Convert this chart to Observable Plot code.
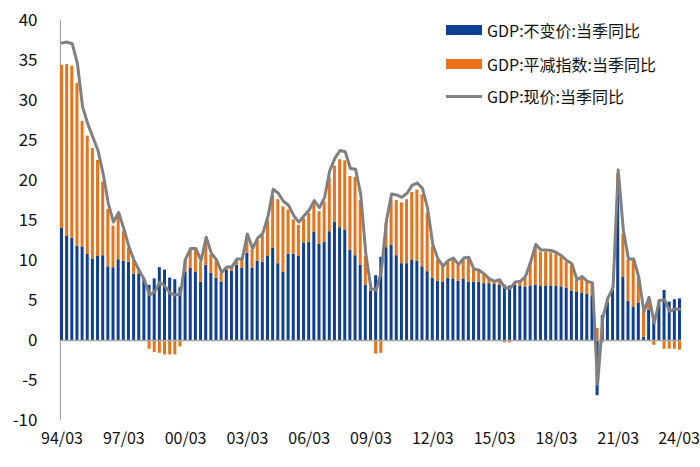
<!DOCTYPE html>
<html><head><meta charset="utf-8">
<script src="https://cdn.jsdelivr.net/npm/d3@7"></script>
<script src="https://cdn.jsdelivr.net/npm/@observablehq/plot@0.6"></script>
<style>
body{margin:0;background:#fff;}
#wrap{position:relative;width:700px;height:467px;font-family:"Noto Sans CJK SC","Noto Sans",sans-serif;}
.item{position:absolute;left:446px;height:22px;display:flex;align-items:center;white-space:nowrap;font-size:16px;color:#111;}
.sw{width:36px;height:10px;margin-right:5px;}
.ln{width:36px;height:3px;background:#808080;margin-right:5px;}
</style></head><body><div id="wrap"></div>
<script>
// Series (quarterly YoY %, 1994Q1 – 2024Q1)
const realGrowth = [
 14.0,13.0,12.8,11.75, 11.7,10.75,10.2,10.5, 10.6,9.2,9.1,10.1, 9.9,9.8,8.3,8.3,
 7.7,6.9,7.7,9.1, 8.8,7.8,7.6,6.6, 8.5,9.0,8.5,7.3, 9.4,8.4,7.8,7.3,
 8.75,8.7,9.4,9.0, 10.9,9.0,9.9,9.8, 10.5,11.5,9.6,8.5, 10.8,10.8,10.5,12.2,
 12.3,13.5,12.0,12.3, 13.6,14.8,14.1,13.75, 11.3,10.6,9.4,6.9, 6.2,8.1,10.4,11.6,
 11.9,10.6,9.6,9.6, 10.0,9.9,9.2,8.6, 7.8,7.4,7.3,7.8, 7.7,7.4,7.7,7.3,
 7.3,7.3,7.1,7.1, 7.0,6.9,6.9,6.8, 6.9,6.75,6.7,6.75, 6.9,6.75,6.75,6.75,
 6.75,6.7,6.5,6.2, 6.0,5.9,5.75,5.6, -6.9,3.1,4.7,6.3, 18.3,7.9,4.9,4.2,
 4.7,0.4,3.8,2.8, 4.6,6.25,4.8,5.1, 5.2
];
const deflator = [
 20.4,21.5,21.5,20.4, 15.7,14.8,13.8,12.0, 9.2,7.2,5.2,5.4, 3.7,1.7,1.6,0.4,
 -0.1,-1.1,-1.5,-1.6, -1.8,-1.8,-1.8,-0.8, 1.6,2.3,2.8,2.5, 3.2,2.3,2.1,1.1,
 0.4,0.5,0.7,1.1, 2.2,2.3,2.6,3.3, 4.5,6.6,8.0,8.2, 5.5,4.3,3.9,3.0,
 3.6,3.5,4.1,5.0, 6.7,7.0,8.5,8.7, 9.2,9.8,8.1,3.6, 0.3,-1.7,-1.6,3.0,
 5.7,6.9,7.6,8.0, 8.5,8.9,9.0,7.3, 3.9,2.6,1.9,2.0, 2.4,2.0,2.4,2.9,
 1.5,1.4,1.1,0.6, 0.4,0.7,-0.3,-0.3, 0.4,0.6,1.2,2.9, 4.8,4.3,4.3,4.2,
 4.0,3.7,3.3,3.2, 1.5,2.0,1.6,1.5, 1.5,-0.3,0.6,0.3, 2.5,5.4,5.1,5.8,
 3.1,3.2,1.5,-0.6, 0.4,-1.1,-1.1,-1.1, -1.2
];
const nominalGrowth = [
 37.2,37.3,37.1,34.6, 29.2,27.1,25.4,23.75, 20.8,17.1,14.8,16.0, 14.0,11.7,10.0,8.75,
 7.6,5.7,6.1,7.3, 6.8,5.9,5.7,5.8, 10.2,11.5,11.5,10.0, 12.9,10.9,10.1,8.5,
 9.2,9.2,10.2,10.2, 13.3,11.5,12.8,13.4, 15.5,18.9,18.4,17.4, 16.9,15.6,14.8,15.6,
 16.3,17.5,16.6,17.9, 21.25,22.8,23.75,23.6, 21.5,21.4,18.3,10.8, 6.5,6.3,8.6,15.0,
 18.3,18.2,17.9,18.4, 19.4,19.7,19.0,16.5, 12.0,10.2,9.3,10.0, 10.3,9.5,10.3,10.4,
 8.9,8.8,8.3,7.7, 7.4,7.6,6.6,6.5, 7.3,7.4,8.0,9.8, 12.0,11.3,11.3,11.25,
 11.0,10.6,10.0,9.6, 7.6,8.0,7.4,7.2, -5.5,2.8,5.3,6.6, 21.3,13.75,10.2,10.2,
 7.9,3.6,5.4,2.2, 5.0,5.1,3.65,3.95, 3.9
];
const tickLabels = ["94/03","97/03","00/03","03/03","06/03","09/03","12/03","15/03","18/03","21/03","24/03"];
const yTicks = [-10,-5,0,5,10,15,20,25,30,35,40];
const seriesNames = ["GDP:不变价:当季同比","GDP:平减指数:当季同比","GDP:现价:当季同比"];
const colors = ["#0F3F93","#E9731A","#808080"];

// quarter categories
const quarters = realGrowth.map((_, i) => {
  const y = (1994 + Math.floor(i / 4)) % 100, m = (i % 4 + 1) * 3;
  return String(y).padStart(2, "0") + "/" + String(m).padStart(2, "0");
});
const bars = [];
quarters.forEach((q, i) => {
  bars.push({q, s: seriesNames[0], v: realGrowth[i]});
  bars.push({q, s: seriesNames[1], v: deflator[i]});
});
const line = quarters.map((q, i) => ({q, v: nominalGrowth[i]}));

const chart = Plot.plot({
  width: 700, height: 467,
  marginLeft: 60, marginRight: 19, marginTop: 20, marginBottom: 47,
  style: {fontFamily: '"Noto Sans CJK SC","Noto Sans",sans-serif', fontSize: "16px", color: "#111", background: "#fff"},
  x: {type: "band", domain: quarters, paddingInner: 0.42, paddingOuter: 0, round: false, axis: null, label: null},
  y: {domain: [-10, 40], axis: null, label: null},
  color: {domain: seriesNames.slice(0, 2), range: colors.slice(0, 2)},
  marks: [
    Plot.ruleX([quarters[0]], {y1: -10, y2: 40, dx: -1.6, stroke: "#a6a6a6", strokeWidth: 1.2}),
    Plot.barY(bars, {x: "q", y: "v", fill: "s"}),
    Plot.ruleY([0], {stroke: "#a6a6a6", strokeWidth: 1.5}),
    Plot.lineY(line, {x: "q", y: "v", stroke: colors[2], strokeWidth: 3, strokeLinejoin: "round"}),
    Plot.axisY({ticks: yTicks, tickSize: 0, tickPadding: 23, tickFormat: d => String(d), fontSize: 17, label: null}),
    Plot.axisX({ticks: tickLabels.slice(0, -1), tickSize: 0, tickPadding: 12, fontSize: 16, label: null}),
    Plot.axisX({ticks: tickLabels.slice(-1), tickSize: 0, tickPadding: 12, fontSize: 16, label: null, textAnchor: "end", dx: 20})
  ]
});
const wrap = document.getElementById("wrap");
wrap.appendChild(chart);
const tops = [19, 53, 85];
seriesNames.forEach((name, k) => {
  const it = document.createElement("div");
  it.className = "item";
  it.style.top = tops[k] + "px";
  const sw = document.createElement("div");
  if (k < 2) { sw.className = "sw"; sw.style.background = colors[k]; }
  else { sw.className = "ln"; }
  it.appendChild(sw);
  const t = document.createElement("span");
  t.textContent = name;
  it.appendChild(t);
  wrap.appendChild(it);
});
</script></body></html>
